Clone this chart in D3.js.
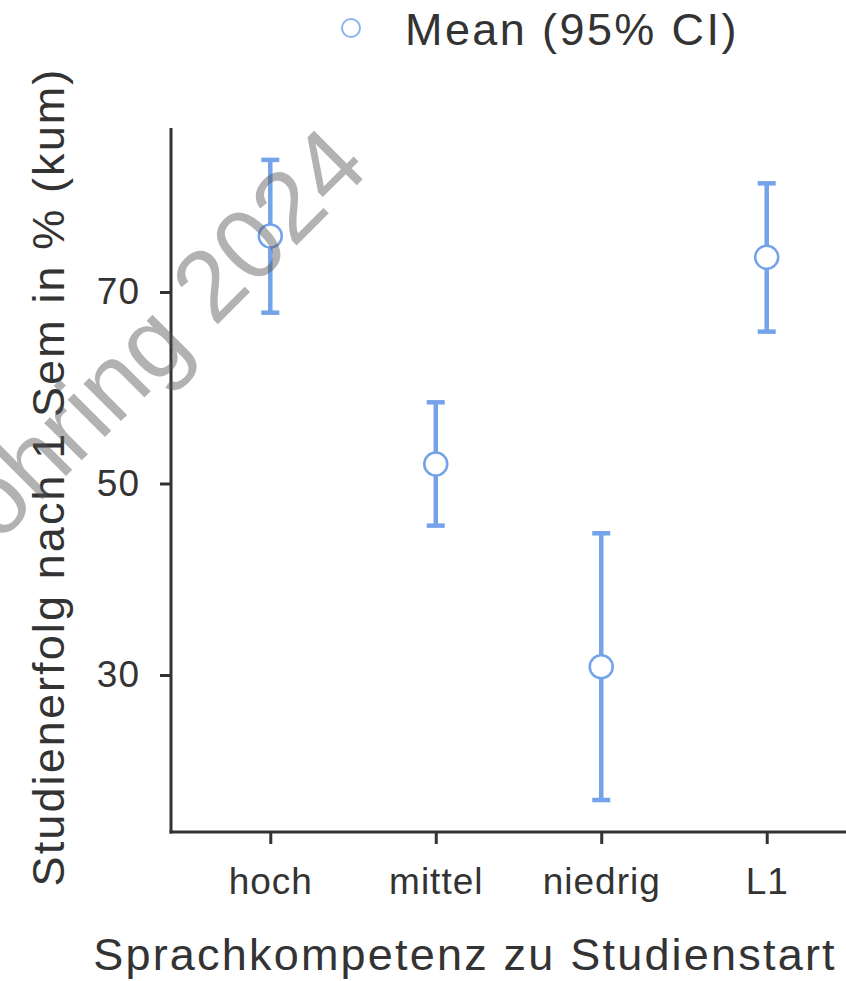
<!DOCTYPE html>
<html lang="de">
<head>
<meta charset="UTF-8">
<title>Studienerfolg nach Sprachkompetenz</title>
<script src="https://d3js.org/d3.v7.min.js"></script>
<style>
  html, body { margin: 0; padding: 0; background: #fff; }
  svg { display: block; font-family: "Liberation Sans", Arial, sans-serif; }
</style>
</head>
<body>
<svg id="chart" width="846" height="981"></svg>
<script>
// data
const categories = ["hoch", "mittel", "niedrig", "L1"];
const means = [75.85, 52.04, 30.87, 73.62];
const ciLower = [67.84, 45.6, 16.94, 65.86];
const ciUpper = [83.8, 58.48, 44.8, 81.35];
const yTicks = [30, 50, 70];

const svg = d3.select("#chart");
const blue = "#74a3ea";
const ink = "#333333";

// panel is cropped at the right edge of the picture
const x = d3.scalePoint()
    .domain(categories)
    .range([171, 866])
    .padding(0.6);

const y = d3.scaleLinear()
    .domain([13.6, 87.13])
    .range([832, 128]);

const rows = categories.map((c, i) => ({ cat: c, mean: means[i], lo: ciLower[i], hi: ciUpper[i] }));

// axes
const yAxis = svg.append("g")
    .attr("transform", "translate(171,0)")
    .call(d3.axisLeft(y).tickValues(yTicks).tickSize(11).tickPadding(20).tickSizeOuter(0));

const xAxis = svg.append("g")
    .attr("transform", "translate(0,832)")
    .call(d3.axisBottom(x).tickSize(12).tickPadding(24).tickSizeOuter(0));

[yAxis, xAxis].forEach(g => {
  g.select(".domain").attr("stroke", ink).attr("stroke-width", 3);
  g.selectAll(".tick line").attr("stroke", ink).attr("stroke-width", 3);
  g.selectAll(".tick text")
      .attr("fill", ink)
      .style("font-size", "37px")
      .style("letter-spacing", "1px")
      .style("font-family", "'Liberation Sans', Arial, sans-serif");
});
// axis lines end where the reference ones do
yAxis.select(".domain").attr("d", `M0,${y.range()[1]}V${y.range()[0] + 1.5}`);
xAxis.select(".domain").attr("d", `M169.5,0H846`);

// error bars
const bars = svg.append("g").attr("stroke", blue).attr("stroke-width", 4.5);
bars.selectAll("line.v").data(rows).join("line")
    .attr("class", "v")
    .attr("x1", d => x(d.cat)).attr("x2", d => x(d.cat))
    .attr("y1", d => y(d.lo)).attr("y2", d => y(d.hi));
bars.selectAll("line.cap").data(rows.flatMap(d => [{ cat: d.cat, v: d.lo }, { cat: d.cat, v: d.hi }])).join("line")
    .attr("class", "cap")
    .attr("x1", d => x(d.cat) - 9).attr("x2", d => x(d.cat) + 9)
    .attr("y1", d => y(d.v)).attr("y2", d => y(d.v));

svg.append("g").selectAll("circle").data(rows).join("circle")
    .attr("cx", d => x(d.cat))
    .attr("cy", d => y(d.mean))
    .attr("r", 11.5)
    .attr("fill", "#fff")
    .attr("stroke", blue)
    .attr("stroke-width", 2.5);

// axis titles
svg.append("text")
    .attr("x", 465).attr("y", 970)
    .attr("text-anchor", "middle")
    .attr("fill", ink)
    .style("font-size", "45px")
    .style("letter-spacing", "2.2px")
    .text("Sprachkompetenz zu Studienstart");

svg.append("text")
    .attr("transform", "translate(64,477) rotate(-90)")
    .attr("text-anchor", "middle")
    .attr("fill", ink)
    .style("font-size", "45px")
    .style("letter-spacing", "2.1px")
    .text("Studienerfolg nach 1 Sem in % (kum)");

// legend
svg.append("circle")
    .attr("cx", 351).attr("cy", 28).attr("r", 9)
    .attr("fill", "#fff").attr("stroke", "#8cb3ee").attr("stroke-width", 2);
svg.append("text")
    .attr("x", 405).attr("y", 45)
    .attr("fill", ink)
    .style("font-size", "45px")
    .style("letter-spacing", "2.4px")
    .text("Mean (95% CI)");

// watermark
svg.append("text")
    .attr("transform", "translate(-53,595) rotate(-45)")
    .attr("fill", "#555")
    .attr("fill-opacity", 0.45)
    .style("font-size", "100px")
    .text("Röhring 2024");
</script>
</body>
</html>
